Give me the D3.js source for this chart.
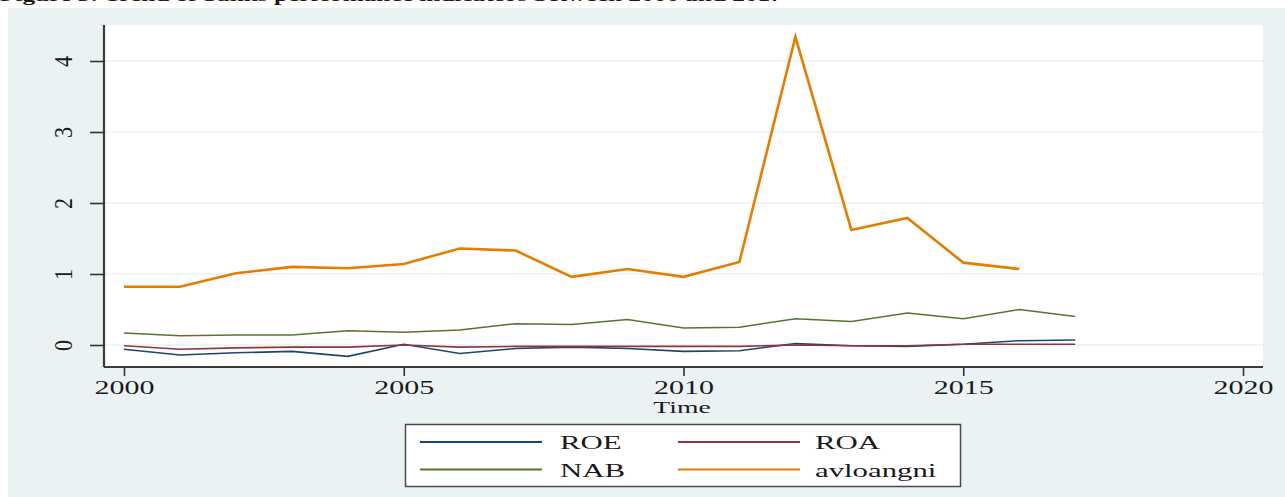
<!DOCTYPE html>
<html>
<head>
<meta charset="utf-8">
<script src="https://cdn.jsdelivr.net/npm/d3@7"></script>
<style>
  html, body { margin: 0; padding: 0; background: #ffffff; }
  svg { display: block; }
  text { font-family: "Liberation Serif", "Times New Roman", serif; fill: #1a1a1a; }
</style>
</head>
<body>
<svg id="chart" width="1285" height="497"></svg>
<script>
// Yearly bank performance indicators
const years = [2000, 2001, 2002, 2003, 2004, 2005, 2006, 2007, 2008, 2009,
               2010, 2011, 2012, 2013, 2014, 2015, 2016, 2017];
const roe = [-0.06, -0.14, -0.11, -0.09, -0.16, 0.01, -0.12, -0.05, -0.03, -0.05,
             -0.09, -0.08, 0.02, -0.01, -0.02, 0.01, 0.06, 0.07];
const roa = [-0.01, -0.06, -0.04, -0.03, -0.03, 0.00, -0.03, -0.02, -0.02, -0.02,
             -0.02, -0.02, 0.00, -0.01, -0.01, 0.01, 0.01, 0.01];
const nab = [0.17, 0.13, 0.14, 0.14, 0.20, 0.18, 0.21, 0.30, 0.29, 0.36,
             0.24, 0.25, 0.37, 0.33, 0.45, 0.37, 0.50, 0.40];
// avloangni ends in 2016
const avloangni = [0.82, 0.82, 1.01, 1.10, 1.08, 1.14, 1.36, 1.33, 0.96, 1.07,
                   0.96, 1.17, 4.34, 1.62, 1.79, 1.16, 1.07];

const seriesNames = ["ROE", "ROA", "NAB", "avloangni"];
const yTicks = [0, 1, 2, 3, 4];
const xTicks = [2000, 2005, 2010, 2015, 2020];
const xTitle = "Time";
const caption = "Figure 3: Trend of banks performance indicators between 2000 and 2017";

const colors = { ROE: "#1a476f", ROA: "#90353b", NAB: "#55752f", avloangni: "#e37e00" };
const widths = { ROE: 1.6, ROA: 1.6, NAB: 1.5, avloangni: 2.6 };

const svg = d3.select("#chart");
const stretch = 1.58; // wide serif lettering

// Outer panel
svg.append("rect").attr("x", 8).attr("y", 8).attr("width", 1277).attr("height", 489)
  .attr("fill", "#eaf2f3");

// Caption (runs off the top edge)
svg.append("text").attr("transform", `translate(0,0.5) scale(${stretch},1)`)
  .attr("font-size", 16).attr("font-weight", "bold").text(caption);

const plot = { left: 104, right: 1263, top: 25, bottom: 367 };
const x = d3.scaleLinear().domain([2000, 2020]).range([124, 1243]);
const y = d3.scaleLinear().domain([0, 4]).range([345, 61]);

svg.append("rect").attr("x", plot.left).attr("y", plot.top)
  .attr("width", plot.right - plot.left).attr("height", plot.bottom - plot.top)
  .attr("fill", "#ffffff");

// Horizontal gridlines
svg.append("g").selectAll("line").data(yTicks).join("line")
  .attr("x1", plot.left).attr("x2", plot.right)
  .attr("y1", d => y(d)).attr("y2", d => y(d))
  .attr("stroke", "#eaf2f3").attr("stroke-width", 1.5);

// Series lines
const line = d3.line().x(d => x(d[0])).y(d => y(d[1]));
const seriesData = {
  ROE: roe.map((v, i) => [years[i], v]),
  ROA: roa.map((v, i) => [years[i], v]),
  NAB: nab.map((v, i) => [years[i], v]),
  avloangni: avloangni.map((v, i) => [years[i], v])
};
["NAB", "ROE", "ROA", "avloangni"].forEach(name => {
  svg.append("path").datum(seriesData[name])
    .attr("d", line).attr("fill", "none")
    .attr("stroke", colors[name]).attr("stroke-width", widths[name])
    .attr("stroke-linejoin", "miter");
});

// Y axis
const yAxis = svg.append("g").attr("transform", `translate(${plot.left},0)`)
  .call(d3.axisLeft(y).tickValues(yTicks).tickSize(14).tickSizeOuter(0).tickFormat(d3.format("d")));
yAxis.select(".domain").attr("d", `M0,${plot.top}V${plot.bottom}`)
  .attr("stroke", "#3a3a3a").attr("stroke-width", 2.2);
yAxis.selectAll(".tick line").attr("stroke", "#333").attr("stroke-width", 1.6);
yAxis.selectAll(".tick text")
  .attr("x", null).attr("dy", "0.35em").attr("text-anchor", "middle")
  .attr("transform", "translate(-41,0) scale(1.15,1) rotate(-90)")
  .attr("font-size", 22).attr("fill", "#1a1a1a");

// X axis
const xAxis = svg.append("g").attr("transform", `translate(0,${plot.bottom})`)
  .call(d3.axisBottom(x).tickValues(xTicks).tickSize(9).tickSizeOuter(0).tickFormat(d3.format("d")));
xAxis.select(".domain").attr("d", `M${plot.left},0H${plot.right}`)
  .attr("stroke", "#3a3a3a").attr("stroke-width", 2);
xAxis.selectAll(".tick line").attr("stroke", "#333").attr("stroke-width", 1.6);
xAxis.selectAll(".tick text")
  .attr("y", null).attr("dy", null)
  .attr("transform", `translate(0,26.5) scale(${stretch},1)`)
  .attr("font-size", 19).attr("fill", "#1a1a1a");

svg.append("text").attr("transform", `translate(682,412.5) scale(${stretch},1)`)
  .attr("text-anchor", "middle").attr("font-size", 17.5).text(xTitle);

// Legend
const legend = svg.append("g");
legend.append("rect").attr("x", 405.5).attr("y", 424.5).attr("width", 555).attr("height", 62)
  .attr("fill", "#ffffff").attr("stroke", "#4a4a4a").attr("stroke-width", 1.5);
const legendPos = [
  { name: "ROE", lx: 420, tx: 560, row: 0 },
  { name: "ROA", lx: 678, tx: 815, row: 0 },
  { name: "NAB", lx: 420, tx: 560, row: 1 },
  { name: "avloangni", lx: 678, tx: 815, row: 1 }
];
legendPos.forEach(p => {
  const cy = 442 + p.row * 27.5;
  legend.append("line").attr("x1", p.lx).attr("x2", p.lx + 122)
    .attr("y1", cy).attr("y2", cy)
    .attr("stroke", colors[p.name]).attr("stroke-width", 2);
  legend.append("text").attr("transform", `translate(${p.tx},${cy + 7}) scale(${stretch},1)`)
    .attr("font-size", 19.5).text(p.name);
});
</script>
</body>
</html>
